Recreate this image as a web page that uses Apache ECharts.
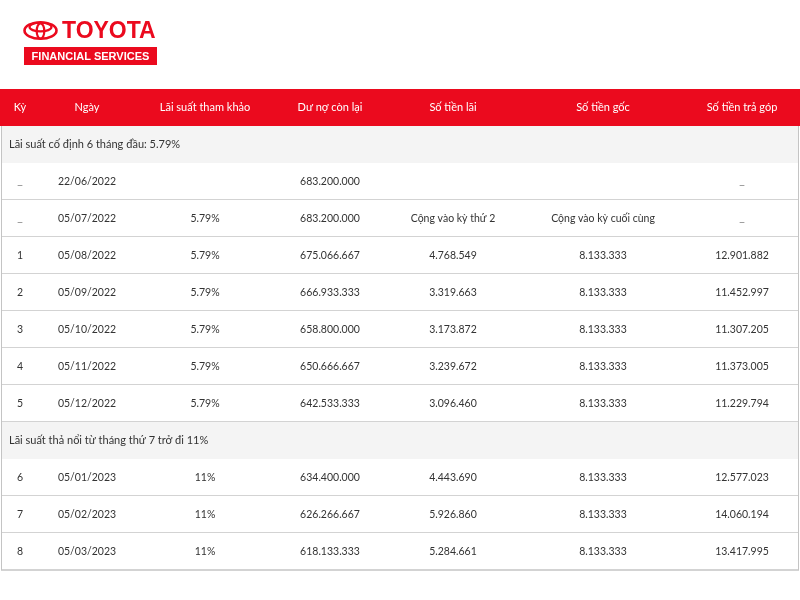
<!DOCTYPE html>
<html>
<head>
<meta charset="utf-8">
<script src="https://cdn.jsdelivr.net/npm/echarts@6/dist/echarts.min.js"></script>
<style>
  html, body { margin: 0; padding: 0; background: #fff; }
  #main { width: 800px; height: 600px; }
</style>
</head>
<body>
<div id="main"></div>
<script>
// tiêu đề cột
const headers = ['Kỳ', 'Ngày', 'Lãi suất tham khảo', 'Dư nợ còn lại', 'Số tiền lãi', 'Số tiền gốc', 'Số tiền trả góp']
const sections = ['Lãi suất cố định 6 tháng đầu: 5.79%', 'Lãi suất thả nổi từ tháng thứ 7 trở đi 11%']
const sectionBefore = [0, 7] // section chèn trước dòng dữ liệu này

const ky = ['_', '_', '1', '2', '3', '4', '5', '6', '7', '8']
const ngay = ['22/06/2022', '05/07/2022', '05/08/2022', '05/09/2022', '05/10/2022', '05/11/2022', '05/12/2022', '05/01/2023', '05/02/2023', '05/03/2023']
const laiSuat = ['', '5.79%', '5.79%', '5.79%', '5.79%', '5.79%', '5.79%', '11%', '11%', '11%']
const duNo = ['683.200.000', '683.200.000', '675.066.667', '666.933.333', '658.800.000', '650.666.667', '642.533.333', '634.400.000', '626.266.667', '618.133.333']
const tienLai = ['', 'Cộng vào kỳ thứ 2', '4.768.549', '3.319.663', '3.173.872', '3.239.672', '3.096.460', '4.443.690', '5.926.860', '5.284.661']
const tienGoc = ['', 'Cộng vào kỳ cuối cùng', '8.133.333', '8.133.333', '8.133.333', '8.133.333', '8.133.333', '8.133.333', '8.133.333', '8.133.333']
const traGop = ['_', '_', '12.901.882', '11.452.997', '11.307.205', '11.373.005', '11.229.794', '12.577.023', '14.060.194', '13.417.995']

const columns = [ky, ngay, laiSuat, duNo, tienLai, tienGoc, traGop]

// dựng danh sách dòng: header, section, data
const rows = [{ kind: 'header' }]
ky.forEach((_k, i) => {
  const s = sectionBefore.indexOf(i)
  if (s >= 0) rows.push({ kind: 'section', idx: s })
  rows.push({ kind: 'data', idx: i })
})

// vị trí tâm cột trên trục x (0..798)
const colX = [19, 86, 204, 329, 452, 602, 741]

const RED = '#eb0a1e'
const TEXT = '#333333'
const LINE = '#c4c4c4'
const FONT = 'Lato, "Noto Sans", sans-serif'

const chart = echarts.init(document.getElementById('main'))

function renderRow(params, api) {
  const r = rows[api.value(1)]
  const cs = params.coordSys
  const cy = api.coord([0, api.value(1)])[1]
  const h = api.size([0, 1])[1]
  const top = cy - h / 2
  const children = []
  const x0 = cs.x
  const x1 = cs.x + cs.width

  if (r.kind === 'header') {
    children.push({ type: 'rect', shape: { x: x0 - 1, y: top, width: cs.width + 2, height: h }, style: { fill: RED } })
    headers.forEach((t, c) => {
      children.push({
        type: 'text',
        x: api.coord([colX[c], 0])[0], y: cy,
        style: { text: t, fill: '#fff', font: '11px ' + FONT, align: 'center', verticalAlign: 'middle' },
      })
    })
    return { type: 'group', children }
  }

  if (r.kind === 'section') {
    children.push({ type: 'rect', shape: { x: x0, y: top, width: cs.width, height: h }, style: { fill: '#f4f4f4' } })
    children.push({
      type: 'text', x: x0 + 8, y: cy,
      style: { text: sections[r.idx], fill: TEXT, font: '11px ' + FONT, align: 'left', verticalAlign: 'middle' },
    })
  } else {
    children.push({ type: 'rect', shape: { x: x0, y: top, width: cs.width, height: h }, style: { fill: '#fff' } })
    columns.forEach((col, c) => {
      const t = col[r.idx]
      if (!t) return
      children.push({
        type: 'text',
        x: api.coord([colX[c], 0])[0], y: t === '_' ? cy - 1 : cy,
        style: {
          text: t, fill: t === '_' ? '#777' : TEXT,
          font: (t === '_' ? '12px ' : '10.5px ') + FONT, align: 'center', verticalAlign: 'middle',
        },
      })
    })
    // đường kẻ dưới mỗi dòng dữ liệu
    children.push({ type: 'line', shape: { x1: x0, y1: top + h, x2: x1, y2: top + h }, style: { stroke: LINE, lineWidth: 1.5 } })
  }
  // viền trái, phải
  children.push({ type: 'line', shape: { x1: x0 + 0.5, y1: top, x2: x0 + 0.5, y2: top + h }, style: { stroke: LINE, lineWidth: 1 } })
  children.push({ type: 'line', shape: { x1: x1 - 0.5, y1: top, x2: x1 - 0.5, y2: top + h }, style: { stroke: LINE, lineWidth: 1 } })
  return { type: 'group', children }
}

const option = {
  animation: false,
  grid: { left: 1, right: 1, top: 89, bottom: 30 },
  xAxis: { type: 'value', min: 0, max: 798, show: false },
  yAxis: {
    type: 'category',
    inverse: true,
    data: rows.map((_r, i) => 'r' + i),
    show: false,
  },
  series: [{
    type: 'custom',
    renderItem: renderRow,
    data: rows.map((_r, i) => [0, i]),
    encode: { x: 0, y: 1 },
    clip: false,
  }],
  graphic: [
    // logo Toyota
    { type: 'ellipse', shape: { cx: 40.5, cy: 30.5, rx: 16, ry: 8.3 }, style: { fill: 'none', stroke: RED, lineWidth: 2.6 } },
    { type: 'ellipse', shape: { cx: 40.5, cy: 27, rx: 11, ry: 4.4 }, style: { fill: 'none', stroke: RED, lineWidth: 2.2 } },
    { type: 'ellipse', shape: { cx: 40.5, cy: 31, rx: 3.8, ry: 7.7 }, style: { fill: 'none', stroke: RED, lineWidth: 2.2 } },
    { type: 'text', x: 62, y: 32, style: { text: 'TOYOTA', fill: RED, font: 'bold 23px "Liberation Sans", Arial, sans-serif', verticalAlign: 'middle' } },
    { type: 'rect', shape: { x: 24, y: 47, width: 133, height: 18 }, style: { fill: RED } },
    { type: 'text', x: 90.5, y: 56.5, style: { text: 'FINANCIAL SERVICES', fill: '#fff', font: 'bold 11px "Liberation Sans", Arial, sans-serif', align: 'center', verticalAlign: 'middle' } },
  ],
}

chart.setOption(option)
</script>
</body>
</html>
